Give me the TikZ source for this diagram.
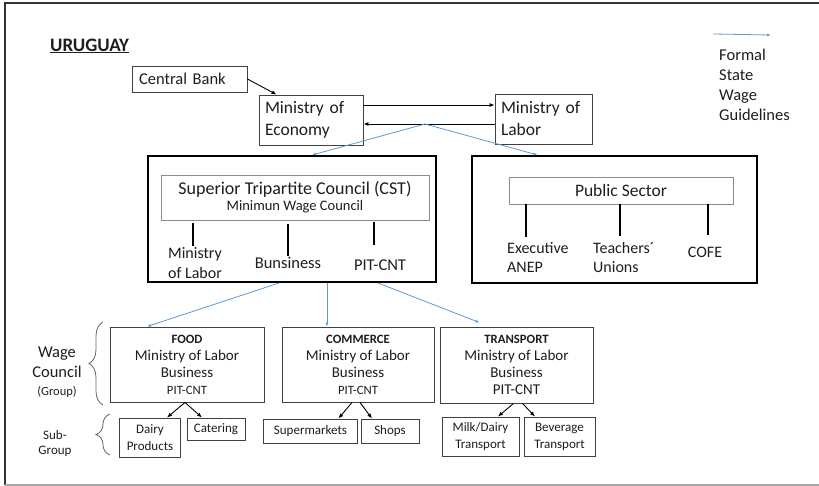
\documentclass[tikz,border=0pt]{standalone}
\usepackage{fontspec}
\setmainfont{Carlito}
\usetikzlibrary{arrows.meta,decorations.pathreplacing,calc}
\definecolor{guide}{RGB}{91,155,213}
\definecolor{ink}{RGB}{30,30,30}
\newcommand{\fsz}[2]{\fontsize{#1}{#2}\selectfont}
\begin{document}
\begin{tikzpicture}[x=1pt,y=-1pt,
  every node/.style={inner sep=0pt, text=ink},
  box/.style={draw=black!75, line width=0.9pt, align=center},
  outerbox/.style={draw=black, line width=2pt},
  innerbox/.style={draw=black!45, line width=0.8pt, align=center},
  lbl/.style={align=center},
  guidearrow/.style={draw=guide, line width=0.8pt, -{Latex[length=4pt,width=3pt]}},
  flowarrow/.style={draw=black, line width=0.9pt, -{Latex[length=5pt,width=4pt]}},
  stem/.style={draw=black, line width=1.6pt},
  groupbrace/.style={draw=black!60, line width=0.8pt, decorate, decoration={brace, amplitude=#1}}
]
\useasboundingbox (0,0) rectangle (819,486);
\fill[white] (0,0) rectangle (819,486);
% page frame
\draw[black!80, line width=1.2pt] (819,3) -- (5,3) -- (5,485);
\draw[black!35, line width=1.2pt] (5,485) -- (819,485);

% title
\node[anchor=west, font=\fsz{19}{22}\bfseries] (title) at (50,46) {\underline{URUGUAY}};

% legend
\coordinate (lg1) at (713,34);
\coordinate (lg2) at (771,35);
\draw[guidearrow] (lg1) -- (lg2);
\node[anchor=north west, align=left, font=\fsz{16.5}{20}] (legend) at (719,49) {Formal\\State\\Wage\\Guidelines};

% state level
\node[box, minimum width=115pt, minimum height=26pt, text width=101pt, align=left, font=\fsz{16.5}{20}] (cb) at (189.5,79) {Central Bank};
\node[box, minimum width=104pt, minimum height=50pt, text width=92pt, align=left, font=\fsz{17.5}{22}] (econ) at (311,120) {Ministry of\\Economy};
\node[box, minimum width=97pt, minimum height=50pt, text width=85pt, align=left, font=\fsz{17.5}{22}] (labor) at (543.5,119) {Ministry of\\Labor};

\draw[flowarrow] (cb.east) -- ([xshift=18pt]econ.north west);
\draw[flowarrow] ([yshift=15pt]econ.east) -- ([yshift=15pt]econ.east -| labor.west);
\draw[flowarrow] ([yshift=-4pt]econ.east -| labor.west) -- ([yshift=-4pt]econ.east);
\coordinate (hub) at (425,124);

% tripartite council
\node[outerbox, minimum width=288pt, minimum height=126pt] (cst) at (292,219) {};
\node[innerbox, minimum width=268pt, minimum height=45pt] (cstin) at (295,197.5)
  {{\fsz{18}{20}Superior Tripartite Council (CST)}\\[2pt]{\fsz{14.5}{20}Minimun Wage Council}};
\node[lbl, font=\fsz{16}{20}] (cmol) at (195,263) {Ministry\\of Labor};
\node[lbl, font=\fsz{16.5}{20}] (cbus) at (288,263) {Bunsiness};
\node[lbl, font=\fsz{16.5}{20}] (cpit) at (380,265) {PIT-CNT};
\draw[stem] ([xshift=-102pt,yshift=-3pt]cstin.south) -- ++(0,23);
\draw[stem] ([xshift=-7pt,yshift=-4pt]cstin.south) -- ++(0,32);
\draw[stem] ([xshift=79pt,yshift=-2pt]cstin.south) -- ++(0,23);

% public sector
\node[outerbox, minimum width=285pt, minimum height=127pt] (pub) at (614.5,219.5) {};
\node[innerbox, minimum width=224pt, minimum height=27pt, font=\fsz{17.5}{20}] (pubin) at (621,190.5) {Public Sector};
\node[anchor=north west, align=left, font=\fsz{16}{19}] (exec) at (507,242) {Executive\\ANEP};
\node[anchor=north west, align=left, font=\fsz{16}{19}] (teach) at (593,242) {Teachers´\\Unions};
\node[lbl, font=\fsz{16}{19}] (cofe) at (705,252) {COFE};
\draw[stem] ([xshift=-95pt]pubin.south) -- ++(0,33);
\draw[stem] ([xshift=-1pt]pubin.south) -- ++(0,32);
\draw[stem] ([xshift=87pt]pubin.south) -- ++(0,31);

\draw[guidearrow] (hub) -- ([xshift=20pt]cst.north);
\draw[guidearrow] (hub) -- ([xshift=-77pt]pub.north);

% wage council groups
\node[box, minimum width=154pt, minimum height=75pt, font=\fsz{15}{17}] (food) at (187,364.5)
  {{\fsz{12.7}{17}\bfseries FOOD}\\Ministry of Labor\\Business\\{\fsz{12.7}{17}PIT-CNT}};
\node[box, minimum width=152pt, minimum height=75pt, font=\fsz{15}{17}] (comm) at (358,364.5)
  {{\fsz{12.7}{17}\bfseries COMMERCE}\\Ministry of Labor\\Business\\{\fsz{12.7}{17}PIT-CNT}};
\node[box, minimum width=153pt, minimum height=76pt, font=\fsz{15}{17}] (trans) at (516.5,365)
  {{\fsz{12.7}{17}\bfseries TRANSPORT}\\Ministry of Labor\\Business\\PIT-CNT};

\draw[guidearrow] ([xshift=-13pt]cst.south) -- ([xshift=-40pt]food.north);
\draw[guidearrow] ([xshift=35pt]cst.south) -- ([xshift=-31pt]comm.north);
\draw[guidearrow] ([xshift=86pt]cst.south) -- ([xshift=-37pt,yshift=4pt]trans.north);

% sub-groups
\node[box, minimum width=61pt, minimum height=39pt, font=\fsz{13}{17}] (dairy) at (150,437.5) {Dairy\\Products};
\node[box, minimum width=58pt, minimum height=22pt, font=\fsz{13}{17}] (cater) at (216,429) {Catering};
\node[box, minimum width=94pt, minimum height=24pt, font=\fsz{13}{17}] (super) at (310.5,431) {Supermarkets};
\node[box, minimum width=58pt, minimum height=24pt, font=\fsz{13}{17}] (shops) at (390,431) {Shops};
\node[box, minimum width=77pt, minimum height=39pt, font=\fsz{13}{17}] (milk) at (480.5,436.5) {Milk/Dairy\\Transport};
\node[box, minimum width=71pt, minimum height=39pt, font=\fsz{13}{17}] (bev) at (559.5,436.5) {Beverage\\Transport};

\draw[flowarrow] ([xshift=-2pt]food.south) -- ([xshift=17pt]dairy.north);
\draw[flowarrow] ([xshift=-2pt]food.south) -- ([xshift=-14pt]cater.north);
\draw[flowarrow] ([xshift=-6pt]comm.south) -- ([xshift=28pt]super.north);
\draw[flowarrow] ([xshift=2pt]comm.south) -- ([xshift=-18pt]shops.north);
\draw[flowarrow] ([xshift=-3pt]trans.south) -- ([xshift=17.5pt]milk.north);
\draw[flowarrow] ([xshift=6pt]trans.south) -- ([xshift=-24.5pt]bev.north);

% level braces and their labels
\coordinate (wcb) at (103,405);
\coordinate (wct) at (103,322);
\draw[groupbrace=14pt] (wcb) -- (wct);
\node[lbl, font=\fsz{16.5}{20}] (wclabel) at (57,372) {Wage\\Council\\[-2pt]{\fsz{12.5}{16}(Group)}};
\coordinate (sgb) at (110,455);
\coordinate (sgt) at (110,414);
\draw[groupbrace=14pt] (sgb) -- (sgt);
\node[lbl, font=\fsz{13}{15}] (sglabel) at (55,444) {Sub-\\Group};
\end{tikzpicture}
\end{document}
